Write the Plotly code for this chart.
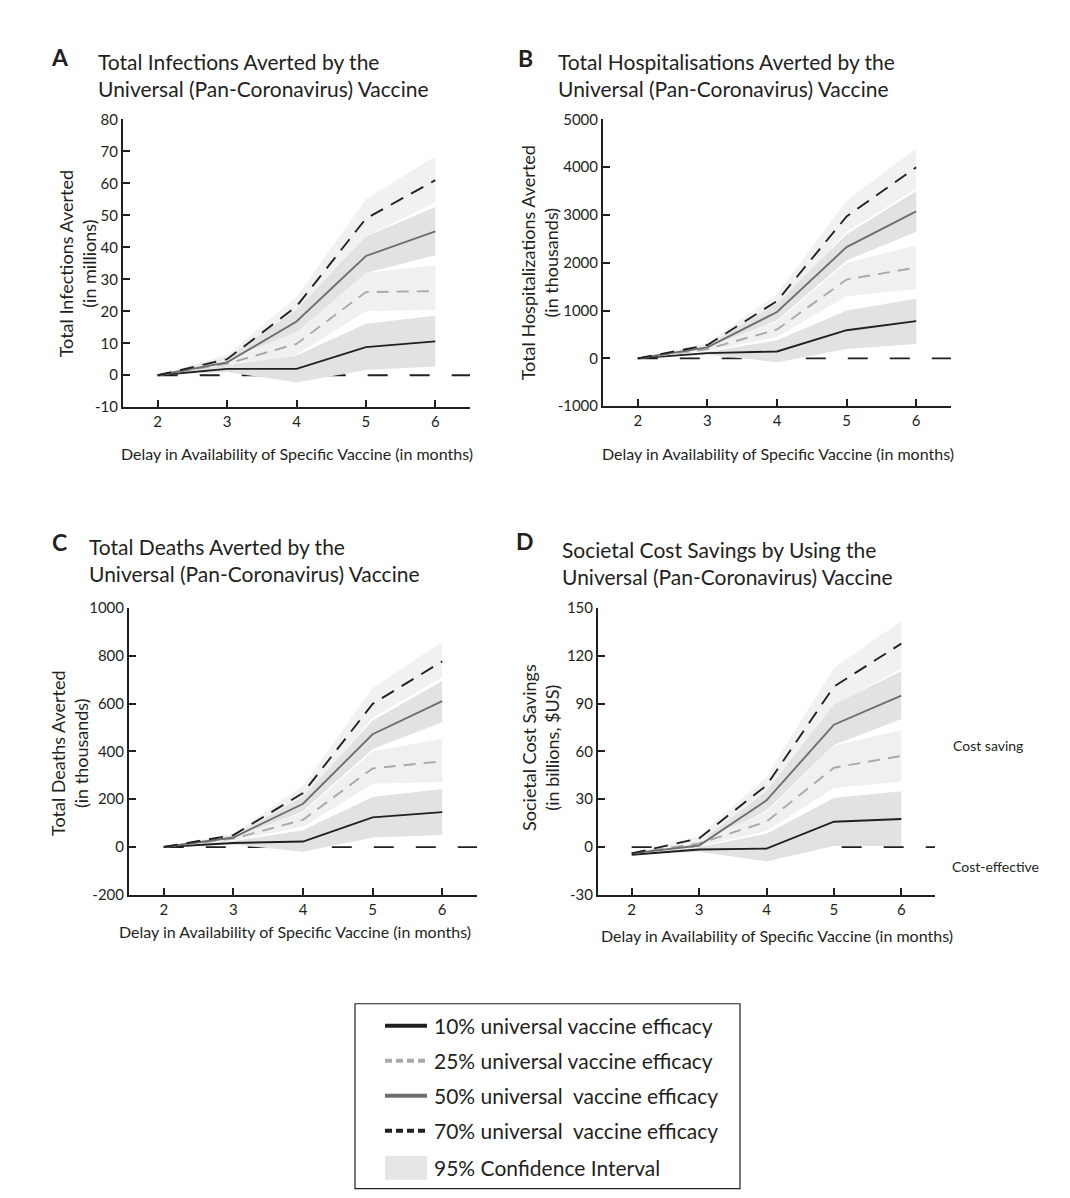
import plotly.graph_objects as go

W, H = 1070, 1198
FONT = "Lato"
INK = "#231f20"

# ---------------- data ----------------
delays = [2, 3, 4, 5, 6]
efficacy_names = ["10% universal vaccine efficacy", "25% universal vaccine efficacy",
                  "50% universal  vaccine efficacy", "70% universal  vaccine efficacy"]

# Panel A: infections averted (millions); rows = 10%, 25%, 50%, 70%
inf_mean = [[0, 2, 2, 8.8, 10.6], [0, 3.6, 9.8, 26, 26.3],
            [0, 4, 16.8, 37.3, 45], [0, 5, 21.5, 49, 61]]
inf_lo = [[0, 1, -2.3, 1.6, 2.7], [0, 2.5, 6.5, 20, 20.5],
          [0, 3, 13, 32, 37.5], [0, 4, 19, 43.5, 54]]
inf_hi = [[0, 3, 6.2, 16.1, 18.6], [0, 5, 13.5, 32, 34.4],
          [0, 5.5, 20.5, 43.4, 52.6], [0, 6.5, 24.5, 55, 68.5]]

# Panel B: hospitalisations averted (thousands)
hosp_mean = [[0, 110, 145, 590, 780], [0, 195, 605, 1650, 1900],
             [0, 230, 970, 2330, 3075], [0, 280, 1200, 2970, 4000]]
hosp_lo = [[0, 80, -80, 195, 300], [0, 150, 450, 1300, 1450],
           [0, 190, 800, 2050, 2650], [0, 230, 1050, 2650, 3550]]
hosp_hi = [[0, 140, 380, 1000, 1250], [0, 240, 780, 2000, 2360],
           [0, 270, 1150, 2600, 3500], [0, 320, 1340, 3300, 4390]]

# Panel C: deaths averted (thousands)
death_mean = [[0, 17, 23, 124, 146], [0, 35, 114, 329, 359],
              [0, 40, 181, 472, 611], [0, 50, 226, 599, 777]]
death_lo = [[0, 10, -20, 40, 50], [0, 28, 85, 265, 272],
            [0, 33, 150, 410, 522], [0, 42, 200, 540, 710]]
death_hi = [[0, 25, 70, 209, 243], [0, 42, 145, 400, 453],
            [0, 48, 210, 530, 695], [0, 58, 255, 666, 859]]

# Panel D: societal cost savings (billions $US)
cost_mean = [[-4.8, -1.5, -1, 15.9, 17.6], [-4, 2.3, 15.9, 49.8, 57.2],
             [-4, 1, 29.3, 76.8, 95], [-4, 5.4, 38.7, 100.7, 127.7]]
cost_lo = [[-4.8, -3, -9, 0.6, 0.6], [-4, 0.5, 10, 37, 41.2],
           [-4, 0, 23, 64, 80.4], [-4, 3.5, 33, 89, 112]]
cost_hi = [[-4.8, 0, 8.4, 30.8, 35], [-4, 4, 22, 63.6, 73.3],
           [-4, 3, 35, 89.4, 110.5], [-4, 7, 44, 112.6, 141.9]]

# y tick values per panel
inf_ticks = [-10, 0, 10, 20, 30, 40, 50, 60, 70, 80]
hosp_ticks = [-1000, 0, 1000, 2000, 3000, 4000, 5000]
death_ticks = [-200, 0, 200, 400, 600, 800, 1000]
cost_ticks = [-30, 0, 30, 60, 90, 120, 150]

x_title = "Delay in Availability of Specific Vaccine (in months)"

# ---------------- styles ----------------
line_colors = [INK, "#a7a9ac", "#6d6e71", INK]
line_dashes = ["solid", "12px,8px", "solid", "14px,9px"]
band_colors = ["#e2e2e2", "#f0f0f0", "#e2e2e2", "#f1f1f1"]

# the photographed page comes out slightly squeezed vertically; compensate
Y_OFF, Y_SCALE = 8.5, 0.9857

def px(x):
    return x / W

def py(y):
    return 1 - ((y - Y_OFF) / Y_SCALE) / H

panels = [
    dict(mean=inf_mean, lo=inf_lo, hi=inf_hi, ticks=inf_ticks,
         dom_x=[123, 470], dom_y=[118, 406], letter="A", letter_xy=(60, 56),
         title="Total Infections Averted by the<br>Universal (Pan-Coronavirus) Vaccine",
         title_xy=(96, 73.5), ytitle="Total Infections Averted<br>(in millions)",
         ytitle_xy=(77, 263), xtitle_xy=(297, 452)),
    dict(mean=hosp_mean, lo=hosp_lo, hi=hosp_hi, ticks=hosp_ticks,
         dom_x=[603, 951], dom_y=[118, 405], letter="B", letter_xy=(525, 57),
         title="Total Hospitalisations Averted by the<br>Universal (Pan-Coronavirus) Vaccine",
         title_xy=(556, 73.5), ytitle="Total Hospitalizations Averted<br>(in thousands)",
         ytitle_xy=(539, 262), xtitle_xy=(778, 452)),
    dict(mean=death_mean, lo=death_lo, hi=death_hi, ticks=death_ticks,
         dom_x=[129, 477], dom_y=[607, 894], letter="C", letter_xy=(59, 541),
         title="Total Deaths Averted by the<br>Universal (Pan-Coronavirus) Vaccine",
         title_xy=(87, 559), ytitle="Total Deaths Averted<br>(in thousands)",
         ytitle_xy=(70, 753), xtitle_xy=(295, 931)),
    dict(mean=cost_mean, lo=cost_lo, hi=cost_hi, ticks=cost_ticks,
         dom_x=[598, 935], dom_y=[607, 894], letter="D", letter_xy=(525, 540),
         title="Societal Cost Savings by Using the<br>Universal (Pan-Coronavirus) Vaccine",
         title_xy=(560, 561.5), ytitle="Societal Cost Savings<br>(in billions, $US)",
         ytitle_xy=(541, 747), xtitle_xy=(777, 935)),
]

fig = go.Figure()
layout = dict(width=W, height=H, margin=dict(l=0, r=0, t=0, b=0),
              paper_bgcolor="white", plot_bgcolor="white", showlegend=False,
              font=dict(family=FONT, color=INK))
annotations = []
shapes = []

def note(text, x, y, size, xanchor="center", angle=0, align="center", bold=False):
    annotations.append(dict(text=("<b>%s</b>" % text) if bold else text,
                            x=px(x), y=py(y), xref="paper", yref="paper",
                            xanchor=xanchor, yanchor="middle", align=align,
                            textangle=angle, showarrow=False,
                            font=dict(size=size, family=FONT, color=INK)))

for i, p in enumerate(panels):
    sfx = "" if i == 0 else str(i + 1)
    xref, yref = "x" + sfx, "y" + sfx
    # confidence bands
    for k in [3, 2, 1, 0]:
        fig.add_trace(go.Scatter(x=delays, y=p["lo"][k], mode="lines", line=dict(width=0),
                                 xaxis=xref, yaxis=yref, hoverinfo="skip"))
        fig.add_trace(go.Scatter(x=delays, y=p["hi"][k], mode="lines", line=dict(width=0),
                                 fill="tonexty", fillcolor=band_colors[k],
                                 xaxis=xref, yaxis=yref, hoverinfo="skip"))
    # mean lines
    for k in [0, 1, 2, 3]:
        fig.add_trace(go.Scatter(x=delays, y=p["mean"][k], mode="lines",
                                 line=dict(color=line_colors[k], width=1.9, dash=line_dashes[k]),
                                 name=efficacy_names[k], xaxis=xref, yaxis=yref))
    # zero reference line
    shapes.append(dict(type="line", xref=xref, yref=yref, x0=delays[0], x1=6.5, y0=0, y1=0,
                       line=dict(color=INK, width=1.8, dash="20px,22px"), layer="below"))

    axis_common = dict(showline=True, linecolor=INK, linewidth=2, ticks="inside",
                       ticklen=7, tickwidth=1.6, tickcolor=INK, showgrid=False,
                       zeroline=False, tickfont=dict(size=15, color=INK, family=FONT))
    layout["xaxis" + sfx] = dict(domain=[px(p["dom_x"][0]), px(p["dom_x"][1])],
                                 range=[1.5, 6.5], tickvals=delays,
                                 ticktext=[str(d) for d in delays], anchor=yref,
                                 **axis_common)
    layout["yaxis" + sfx] = dict(domain=[py(p["dom_y"][1]), py(p["dom_y"][0])],
                                 range=[p["ticks"][0], p["ticks"][-1]],
                                 tickvals=p["ticks"], ticktext=[str(t) for t in p["ticks"]],
                                 anchor=xref, **axis_common)
    # texts
    note(p["letter"], p["letter_xy"][0], p["letter_xy"][1], 23, bold=True)
    note(p["title"], p["title_xy"][0], p["title_xy"][1], 21, xanchor="left", align="left")
    note(p["ytitle"], p["ytitle_xy"][0], p["ytitle_xy"][1], 18, angle=-90)
    note(x_title, p["xtitle_xy"][0], p["xtitle_xy"][1], 16)

note("Cost saving", 988, 745, 14)
note("Cost-effective", 995, 866, 14)

# ---------------- legend (manual box) ----------------
shapes.append(dict(type="rect", xref="paper", yref="paper", x0=px(355), x1=px(740),
                   y0=py(1188), y1=py(1003), line=dict(color=INK, width=1.2)))
legend_y = [1025, 1060, 1095, 1130]
legend_dash = ["solid", "7px,4px", "solid", "7px,4px"]
for k in range(4):
    shapes.append(dict(type="line", xref="paper", yref="paper", x0=px(385), x1=px(427),
                       y0=py(legend_y[k]), y1=py(legend_y[k]),
                       line=dict(color=line_colors[k], width=4, dash=legend_dash[k])))
    note(efficacy_names[k].replace("  ", "&nbsp; "), 432, legend_y[k], 21, xanchor="left")
shapes.append(dict(type="rect", xref="paper", yref="paper", x0=px(385), x1=px(427),
                   y0=py(1179), y1=py(1155), line=dict(width=0), fillcolor="#e6e6e6"))
note("95% Confidence Interval", 432, 1167, 21, xanchor="left")

layout["annotations"] = annotations
layout["shapes"] = shapes
fig.update_layout(**layout)

pin_js = ("var d=document.getElementsByClassName('plotly-graph-div')[0];"
          "d.style.position='fixed';d.style.top='0px';d.style.left='0px';"
          "document.body.style.margin='0';document.body.style.overflow='hidden';")
fig.write_html("out.html", config=dict(displayModeBar=False), post_script=pin_js)
